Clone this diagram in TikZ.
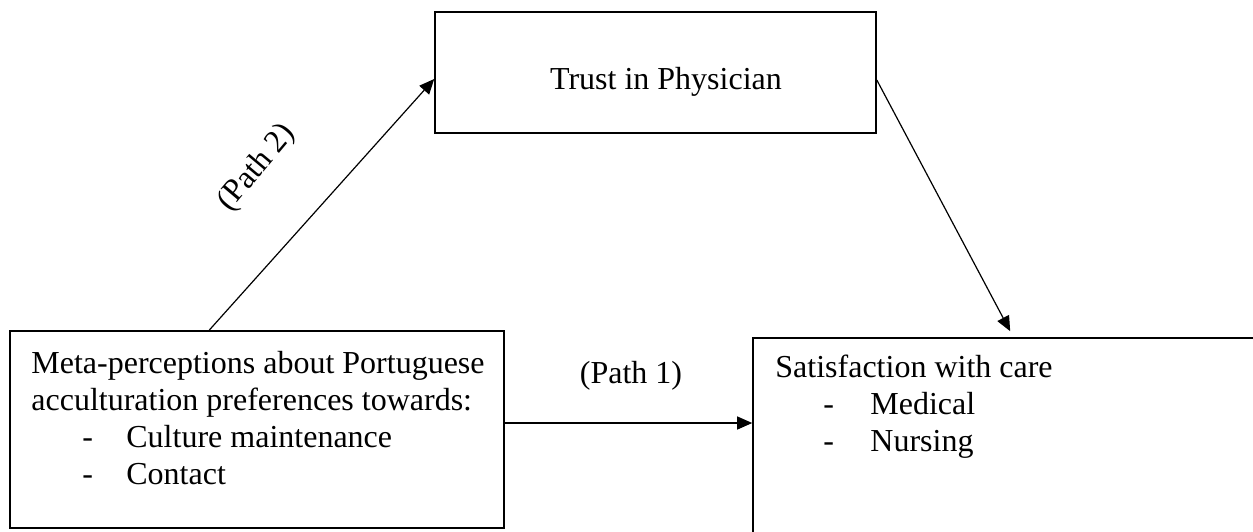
\documentclass[tikz,border=0pt]{standalone}
\usepackage{fontspec}
\setmainfont{Liberation Serif}
\usetikzlibrary{arrows.meta}
\begin{document}
\begin{tikzpicture}[x=0.5pt,y=-0.5pt,
  box/.style={draw,line width=0.8pt,rectangle,inner sep=0pt},
  txt/.style={font=\fontsize{16pt}{19pt}\selectfont,inner sep=0pt,anchor=base west},
  arr/.style={line width=0.6pt,-{Triangle[length=7.5pt,width=6.5pt]}}]
\useasboundingbox (0,0) rectangle (1253,531);
\node[box,minimum width=247pt,minimum height=98.5pt] (L) at (257,429.5) {};
\node[box,minimum width=220.5pt,minimum height=60.5pt] (T) at (655.5,72.5) {};
\node[box,minimum width=258.5pt,minimum height=103.5pt] (R) at (1011.5,441.5) {};
% top box text
\node[txt,anchor=base] (t1) at (666,89) {Trust in Physician};
% left box text
\node[txt] (l1) at (31,373) {Meta-perceptions about Portuguese};
\node[txt] (l2) at (31,410) {acculturation preferences towards:};
\node[txt] (l3d) at (82,447) {-};
\node[txt] (l3) at (126,447) {Culture maintenance};
\node[txt] (l4d) at (82,484) {-};
\node[txt] (l4) at (126,484) {Contact};
% right box text
\node[txt] (r1) at (775,377) {Satisfaction with care};
\node[txt] (r2d) at (823,414) {-};
\node[txt] (r2) at (870,414) {Medical};
\node[txt] (r3d) at (823,451) {-};
\node[txt] (r3) at (870,451) {Nursing};
% arrows
\coordinate (p1s) at ([yshift=3.25pt]L.east);
\draw[arr] (p1s) -- (p1s -| R.west);
\draw[arr] ([xshift=100pt]L.north west) -- ([yshift=-3.25pt]T.west);
\draw[arr] ([yshift=-3.75pt]T.east) -- ([xshift=129pt,yshift=3pt]R.north west);
% labels
\node[txt,anchor=base] (lab1) at (631,383) {(Path 1)};
\node[txt,anchor=center,rotate=50] (lab2) at (257,168) {(Path 2)};
\end{tikzpicture}
\end{document}
